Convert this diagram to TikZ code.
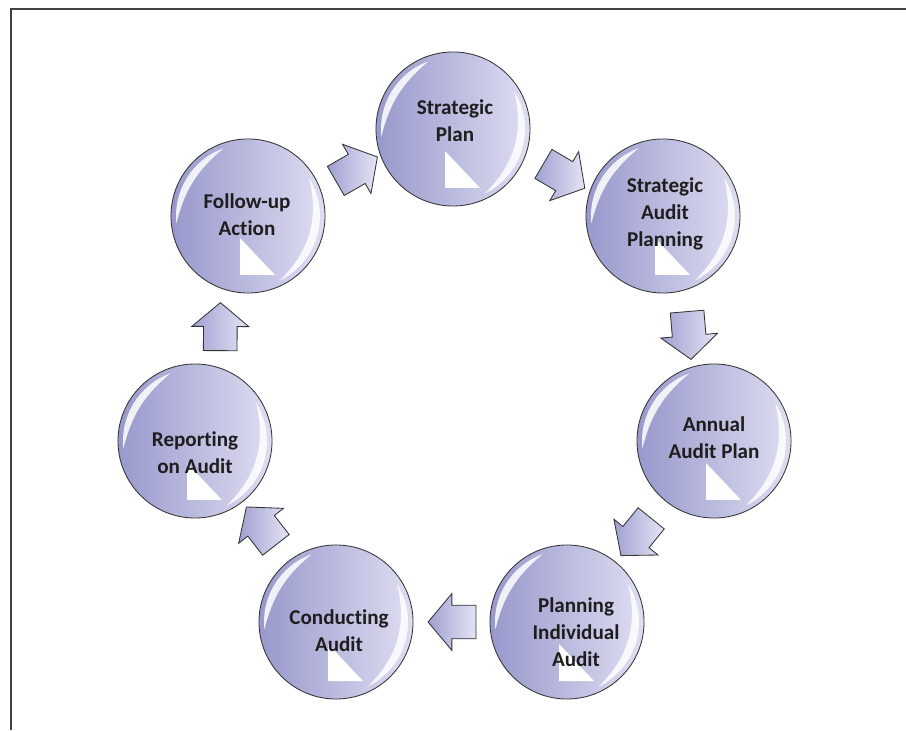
\documentclass[tikz,border=0pt]{standalone}
\usepackage{fontspec}
\setmainfont[Ligatures=NoCommon]{Carlito}
\usetikzlibrary{shapes.arrows,calc}

\definecolor{ballleft}{RGB}{152,152,204}
\definecolor{ballright}{RGB}{222,222,242}
\definecolor{arrowdark}{RGB}{160,160,210}
\definecolor{arrowlight}{RGB}{228,228,245}
\definecolor{labeltext}{RGB}{30,30,30}

\tikzset{
  ball/.style={circle, minimum size=3.85cm, inner sep=0pt, draw=black!80, line width=0.6pt,
    left color=ballleft, right color=ballright},
  balltext/.style={align=center, font=\bfseries\fontsize{15}{19}\selectfont, text=labeltext},
  flow/.style={single arrow, minimum height=1.2cm, inner xsep=0pt, inner ysep=0.41cm,
    single arrow head extend=0.29cm, single arrow tip angle=100,
    draw=black!80, line width=0.6pt, left color=arrowdark, right color=arrowlight,
    sloped, allow upside down, pos=0.5},
  gloss/.style={white, opacity=0.85}
}

% one stage: name, centre, text offset, text
\newcommand{\stage}[4]{%
  \node[ball] (#1) at (#2) {};
  \fill[white] ($(#1)+(-8,-22)$) -- ($(#1)+(-8,-59)$) -- ($(#1)+(27,-59)$) -- cycle;
  \fill[gloss] ($(#1)+(110:72)$) arc[start angle=110, end angle=186, radius=72]
    to[bend left=18] ($(#1)+(110:72)$);
  \fill[gloss] ($(#1)+(32:72)$) arc[start angle=32, end angle=-64, radius=72]
    to[bend right=30] ($(#1)+(32:72)$);
  \node[balltext] (#1-t) at ($(#1)+(#3)$) {#4};
}

\begin{document}
\begin{tikzpicture}[x=0.025cm, y=0.025cm]
  \useasboundingbox (0,0) rectangle (906,730);
  \draw[line width=1.8pt, black!75] (11,0) -- (11,721) -- (906,721);

  % stages
  \stage{sp}{453,601}{2,8}{Strategic\\Plan}
  \stage{sap}{663,514}{2,2}{Strategic\\Audit\\Planning}
  \stage{aap}{714,289}{0,3}{Annual\\Audit Plan}
  \stage{pia}{567,108}{9,-10}{Planning\\Individual\\Audit}
  \stage{ca}{336,108}{3,-9}{Conducting\\Audit}
  \stage{ra}{195,289}{0,-12}{Reporting\\on Audit}
  \stage{fa}{248,514}{-1,1}{Follow-up\\Action}

  % arrows round the cycle
  \path (sp) -- (sap) node[flow, rotate=-8] (sp-sap) {};
  \path (sap) -- (aap) node[flow, rotate=-8] (sap-aap) {};
  \path (aap) -- (pia) node[flow] (aap-pia) {};
  \path (pia) -- (ca) node[flow, pos=0.4] (pia-ca) {};
  \path (ca) -- (ra) node[flow] (ca-ra) {};
  \path (ra) -- (fa) node[flow, rotate=13, pos=0.43] (ra-fa) {};
  \path (fa) -- (sp) node[flow, rotate=7] (fa-sp) {};
\end{tikzpicture}
\end{document}
